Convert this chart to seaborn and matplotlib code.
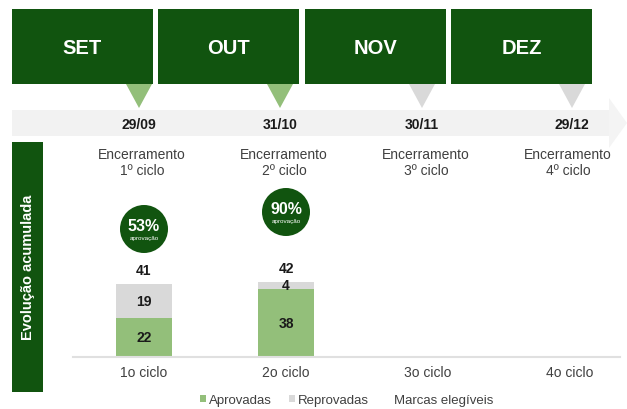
import matplotlib
matplotlib.use('Agg')
import pandas as pd
import matplotlib.pyplot as plt
from matplotlib.patches import Rectangle, Polygon, Circle, Patch
import seaborn as sns

# dados
meses = ['SET', 'OUT', 'NOV', 'DEZ']
datas = ['29/09', '31/10', '30/11', '29/12']
mes_encerrado = [True, True, False, False]
titulos = ['Encerramento\n1º ciclo', 'Encerramento\n2º ciclo',
           'Encerramento\n3º ciclo', 'Encerramento\n4º ciclo']
ciclos = ['1o ciclo', '2o ciclo', '3o ciclo', '4o ciclo']
ciclos_com_dados = ['1o ciclo', '2o ciclo']
aprovadas = [22, 38]
reprovadas = [19, 4]
aprovacao_pct = [53, 90]
legenda = ['Aprovadas', 'Reprovadas', 'Marcas elegíveis']

VERDE = '#11540f'
VERDE_CLARO = '#93bf7a'
CINZA = '#d9d9d9'
FAIXA = '#f2f2f2'
TEXTO = '#1a1a1a'
TEXTO2 = '#404040'

sns.set_style('white')
plt.rcParams['font.family'] = ['Liberation Sans', 'DejaVu Sans']

df = pd.DataFrame({'ciclo': ciclos_com_dados,
                   'aprovadas': aprovadas,
                   'reprovadas': reprovadas})
df['total'] = df['aprovadas'] + df['reprovadas']

fig = plt.figure(figsize=(6.27, 4.10), dpi=100)

# fundo em coordenadas de pixel
bg = fig.add_axes([0, 0, 1, 1])
bg.set_xlim(0, 627)
bg.set_ylim(410, 0)
bg.axis('off')

box_x = [12, 158, 305, 451]
tri_x = [139, 280, 422, 572]
box_w = 141

# faixa cinza com seta
bg.add_patch(Polygon([(12, 111), (609, 111), (609, 99), (627, 124),
                      (609, 149), (609, 137), (12, 137)],
                     closed=True, color='#f4f4f4', lw=0, zorder=1))
bg.add_patch(Rectangle((12, 111), 597, 26, color=FAIXA, lw=0, zorder=1))

for mes, x0, tx, dt, ok in zip(meses, box_x, tri_x, datas, mes_encerrado):
    bg.add_patch(Rectangle((x0, 10), box_w, 75, color=VERDE, lw=0, zorder=2))
    bg.text(x0 + box_w / 2, 48, mes, color='white', fontsize=14.5,
            fontweight='bold', ha='center', va='center', zorder=3)
    bg.add_patch(Polygon([(tx - 13, 85), (tx + 13, 85), (tx, 109)], closed=True,
                         color=VERDE_CLARO if ok else CINZA, lw=0, zorder=2))
    bg.text(tx, 125, dt, color=TEXTO, fontsize=10, fontweight='bold',
            ha='center', va='center', zorder=3)

# barra lateral
bg.add_patch(Rectangle((12, 143), 31, 250, color=VERDE, lw=0))
bg.text(28, 267, 'Evolução acumulada', rotation=90, color='white',
        fontsize=10.5, fontweight='bold', ha='center', va='center')

# grafico de barras
x_left, x_right, y_base, y_top = 73, 620, 358, 140
px_por_unidade = 1.79
slot = 142
ax = fig.add_axes([x_left / 627, (410 - y_base) / 410,
                   (x_right - x_left) / 627, (y_base - y_top) / 410])
ax.patch.set_alpha(0)

sns.barplot(data=df, x='ciclo', y='total', order=ciclos, color=CINZA,
            width=0.394, errorbar=None, saturation=1, linewidth=0, ax=ax)
sns.barplot(data=df, x='ciclo', y='aprovadas', order=ciclos, color=VERDE_CLARO,
            width=0.394, errorbar=None, saturation=1, linewidth=0, ax=ax)

ax.set_xlim(-0.5, (x_right - x_left) / slot - 0.5)
ax.set_ylim(0, (y_base - y_top) / px_por_unidade)
ax.set_xlabel('')
ax.set_ylabel('')
ax.set_yticks([])
for s in ['top', 'left', 'right']:
    ax.spines[s].set_visible(False)
ax.spines['bottom'].set_color('#e0e0e0')
ax.spines['bottom'].set_linewidth(1.5)
ax.tick_params(axis='x', length=0, pad=6, labelsize=10, labelcolor=TEXTO2)

for i, row in df.iterrows():
    ax.text(i, row['aprovadas'] / 2, str(row['aprovadas']), ha='center',
            va='center', fontsize=10, fontweight='bold', color=TEXTO)
    ax.text(i, row['aprovadas'] + row['reprovadas'] / 2, str(row['reprovadas']),
            ha='center', va='center', fontsize=10, fontweight='bold', color=TEXTO)
    ax.annotate(str(row['total']), (i, row['total']), xytext=(0, 5),
                textcoords='offset points', ha='center', va='bottom',
                fontsize=10, fontweight='bold', color=TEXTO)

# titulos dos ciclos e circulos de aprovacao
circ_y = [230, 213]
for i, t in enumerate(titulos):
    cx = x_left + (i + 0.5) * slot - 2
    bg.text(cx, 163, t, ha='center', va='center', fontsize=10,
            color=TEXTO2, linespacing=1.25)
for i, (p, cy) in enumerate(zip(aprovacao_pct, circ_y)):
    cx = x_left + (i + 0.5) * slot
    bg.add_patch(Circle((cx, cy), 24, color=VERDE, lw=0))
    bg.text(cx, cy - 3, f'{p}%', ha='center', va='center', fontsize=11.5,
            fontweight='bold', color='white')
    bg.text(cx, cy + 9, 'aprovação', ha='center', va='center', fontsize=4.5,
            color='white')

handles = [Patch(facecolor=VERDE_CLARO, lw=0), Patch(facecolor=CINZA, lw=0),
           Patch(facecolor='none', edgecolor='none')]
fig.legend(handles, legenda, ncol=3, loc='center',
           bbox_to_anchor=(347 / 627, (410 - 401) / 410), frameon=False,
           fontsize=9.5, handlelength=0.45, handleheight=0.45,
           handletextpad=0.2, columnspacing=1.3, labelcolor=TEXTO2,
           borderpad=0, borderaxespad=0)

fig.savefig('out.png', dpi=100)
